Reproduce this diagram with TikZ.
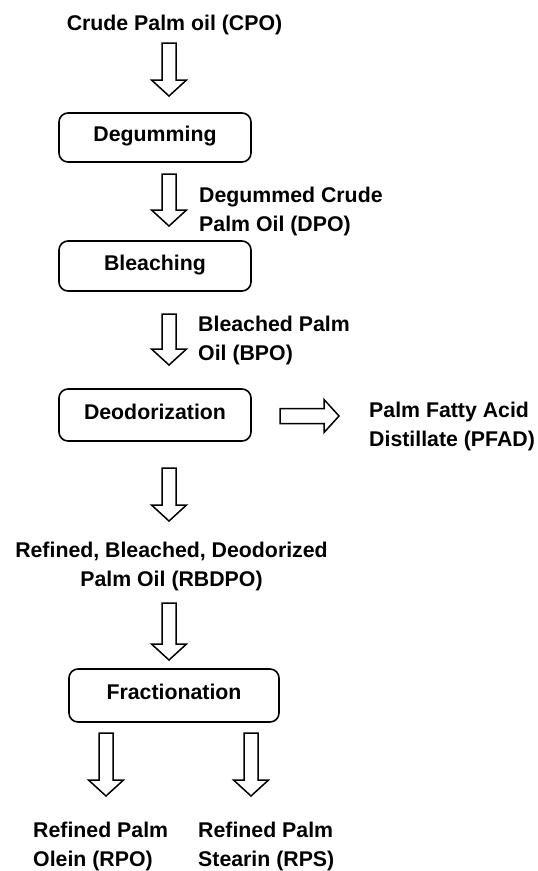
\documentclass[tikz,border=0pt]{standalone}
\usepackage{fontspec}
\setmainfont{Liberation Sans}
\newcommand\leftlines[2]{\vtop{\baselineskip=29.5pt\hbox{#1}\hbox{#2}}}
\newcommand\centerlines[2]{\vtop{\baselineskip=29pt\halign{\hfil##\hfil\cr#1\cr#2\cr}}}
\newcommand\downblock[3]{%
  \draw[blockarrow] (#1-7,#2) -- (#1+7,#2) -- (#1+7,#3-16) -- (#1+17.5,#3-16)
    -- (#1,#3) -- (#1-17.5,#3-16) -- (#1-7,#3-16) -- cycle;}
\begin{document}
\begin{tikzpicture}[x=1pt,y=-1pt,
  font=\bfseries\fontsize{21.3}{29.5}\selectfont,
  stagebox/.style={draw, line width=1.6pt, rounded corners=9pt, inner sep=0pt,
    minimum width=192pt, minimum height=49pt, text height=15pt, text depth=7pt},
  blockarrow/.style={draw, line width=1.5pt, line join=miter},
  txt/.style={inner sep=0pt}]
\useasboundingbox (0,0) rectangle (538,871);

\node[txt, anchor=base] (cpo) at (174.5,30) {Crude Palm oil (CPO)};
\node[stagebox] (degum) at (155,137.5) {Degumming};
\node[stagebox, minimum height=50pt] (bleach) at (155,266) {Bleaching};
\node[stagebox, minimum height=52pt] (deodor) at (155,415) {Deodorization};
\node[stagebox, minimum width=210pt, minimum height=53pt] (fract) at (174,695.5) {Fractionation};

\node[txt, anchor=base west] (dpo) at (199,202) {\leftlines{Degummed Crude}{Palm Oil (DPO)}};
\node[txt, anchor=base west] (bpo) at (198,331) {\leftlines{Bleached Palm}{Oil (BPO)}};
\node[txt, anchor=base west] (pfad) at (369,417) {\leftlines{Palm Fatty Acid}{Distillate (PFAD)}};
\node[txt, anchor=base] (rbdpo) at (171.5,557) {\centerlines{Refined, Bleached, Deodorized}{Palm Oil (RBDPO)}};
\node[txt, anchor=base west] (rpo) at (33,837) {\leftlines{Refined Palm}{Olein (RPO)}};
\node[txt, anchor=base west] (rps) at (198,837) {\leftlines{Refined Palm}{Stearin (RPS)}};

\downblock{169}{43}{96}
\downblock{169}{174}{226}
\downblock{169}{314}{365}
\downblock{169}{468}{521}
\downblock{169}{603}{660}
\downblock{106}{733}{796}
\downblock{251}{733}{796}

\draw[blockarrow] (280,408.5) -- (324,408.5) -- (324,399.5) -- (339,416)
  -- (324,432.5) -- (324,423.5) -- (280,423.5) -- cycle;
\end{tikzpicture}
\end{document}
